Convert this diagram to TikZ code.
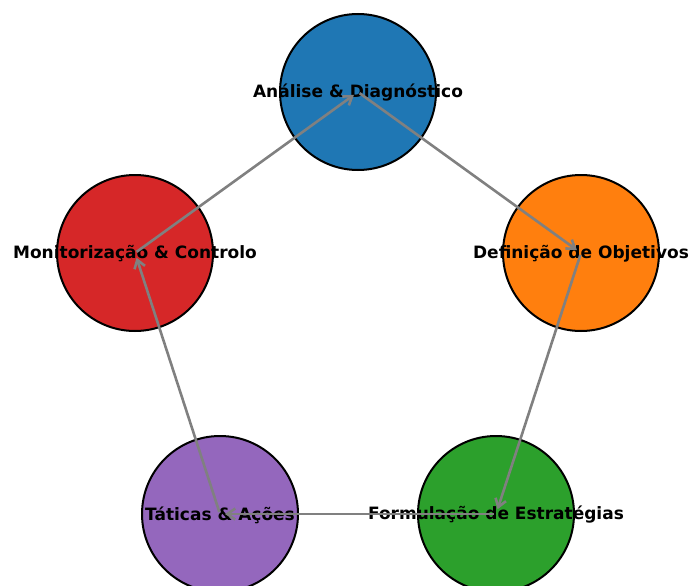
\documentclass[tikz,border=0pt]{standalone}
\usepackage{fontspec}
\setmainfont{DejaVu Sans}
\usetikzlibrary{arrows.meta}
\definecolor{mblue}{HTML}{1F77B4}
\definecolor{morange}{HTML}{FF7F0E}
\definecolor{mgreen}{HTML}{2CA02C}
\definecolor{mred}{HTML}{D62728}
\definecolor{mpurple}{HTML}{9467BD}
\definecolor{mgray}{HTML}{808080}
\tikzset{
  phase/.style={circle, draw=black, line width=2pt, minimum size=156pt, inner sep=0pt},
  lab/.style={font=\bfseries\fontsize{17}{20}\selectfont, text=black, inner sep=0pt, yshift=-1pt},
  flow/.style={draw=mgray, line width=2.6pt, -{Straight Barb[length=8pt,width=11pt,line width=2.6pt]}, shorten >=5pt, shorten <=2pt}
}
\begin{document}
\begin{tikzpicture}[x=1pt,y=-1pt]
\useasboundingbox (0,0) rectangle (691,586);
\clip (0,0) rectangle (691,586);
\node[phase, fill=mblue]   (a) at (358,92)  {};
\node[phase, fill=morange] (d) at (581,253) {};
\node[phase, fill=mgreen]  (f) at (496,514) {};
\node[phase, fill=mpurple] (t) at (220,514) {};
\node[phase, fill=mred]    (m) at (135,253) {};
\node[lab] (la) at (a.center) {Análise \& Diagnóstico};
\node[lab] (ld) at (d.center) {Definição de Objetivos};
\node[lab] (lf) at (f.center) {Formulação de Estratégias};
\node[lab] (lt) at (t.center) {Táticas \& Ações};
\node[lab] (lm) at (m.center) {Monitorização \& Controlo};
\draw[flow] (a.center) -- (d.center);
\draw[flow] (d.center) -- (f.center);
\draw[flow] (f.center) -- (t.center);
\draw[flow] (t.center) -- (m.center);
\draw[flow] (m.center) -- (a.center);
\end{tikzpicture}
\end{document}
